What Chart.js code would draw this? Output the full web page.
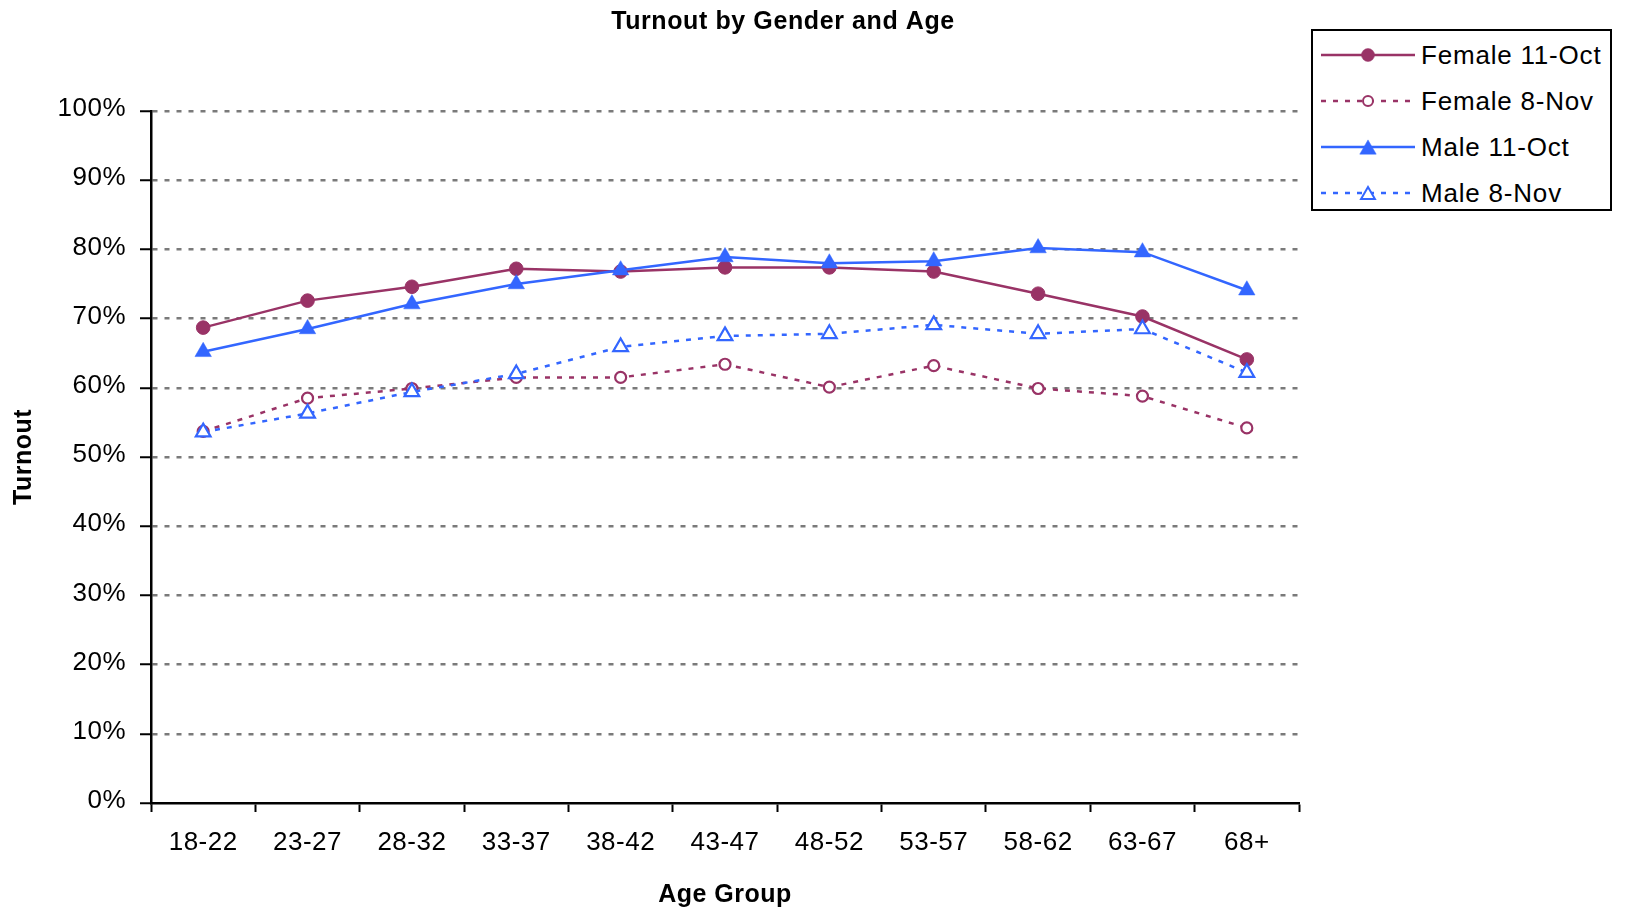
<!DOCTYPE html>
<html>
<head>
<meta charset="utf-8">
<script src="https://cdn.jsdelivr.net/npm/chart.js@4.4.1/dist/chart.umd.min.js"></script>
<style>
  html, body { margin: 0; padding: 0; background: #fff; }
  #wrap { position: relative; width: 1626px; height: 912px; }
  #legend { position: absolute; left: 1311px; top: 29px; width: 297px; height: 178px;
            border: 2px solid #000; background: #fff; }
  .row { position: absolute; left: 0; height: 40px; width: 300px; }
  .row svg { position: absolute; left: 8px; top: 0; }
  .row span { position: absolute; left: 108px; top: 5px; font-family: "Liberation Sans", Arial, sans-serif;
              font-size: 26px; letter-spacing: 0.8px; color: #000; line-height: 30px; white-space: nowrap; }
</style>
</head>
<body>
<div id="wrap">
  <canvas id="c" width="1626" height="912"></canvas>
  <div id="legend"></div>
</div>
<script>
const chartTitle = 'Turnout by Gender and Age';
const xTitle = 'Age Group';
const yTitle = 'Turnout';
const categories = ['18-22','23-27','28-32','33-37','38-42','43-47','48-52','53-57','58-62','63-67','68+'];
const seriesLabels = ['Female 11-Oct','Female 8-Nov','Male 11-Oct','Male 8-Nov'];
const femaleOct = [68.7, 72.6, 74.6, 77.2, 76.8, 77.4, 77.4, 76.8, 73.6, 70.3, 64.1];
const femaleNov = [53.7, 58.5, 59.9, 61.5, 61.5, 63.4, 60.1, 63.2, 59.9, 58.8, 54.2];
const maleOct   = [65.2, 68.5, 72.1, 75.0, 77.0, 78.9, 78.0, 78.3, 80.2, 79.6, 74.1];
const maleNov   = [53.6, 56.3, 59.4, 62.0, 65.9, 67.5, 67.8, 69.1, 67.8, 68.5, 62.2];

const FEMALE = '#993366';
const MALE = '#3366FF';
const FONT = '"Liberation Sans", Arial, sans-serif';

const titlePlugin = {
  id: 'topTitle',
  beforeDraw(chart) {
    chart.ctx.letterSpacing = '0.5px';
  },
  afterDraw(chart) {
    const ctx = chart.ctx;
    ctx.save();
    ctx.letterSpacing = '0.6px';
    ctx.font = 'bold 25px ' + FONT;
    ctx.fillStyle = '#000';
    ctx.textAlign = 'center';
    ctx.textBaseline = 'alphabetic';
    ctx.fillText(chartTitle, 783, 29);
    ctx.restore();
  }
};

const datasets = [
  { label: seriesLabels[0], data: femaleOct, borderColor: FEMALE, backgroundColor: FEMALE,
    borderWidth: 2.5, pointStyle: 'circle', pointRadius: 6.8, pointBorderWidth: 1,
    pointBackgroundColor: FEMALE, pointBorderColor: FEMALE, order: 1 },
  { label: seriesLabels[1], data: femaleNov, borderColor: FEMALE, backgroundColor: '#fff',
    borderWidth: 2.5, borderDash: [5, 7], pointStyle: 'circle', pointRadius: 5.5, pointBorderWidth: 2.2,
    pointBackgroundColor: '#fff', pointBorderColor: FEMALE, order: 1 },
  { label: seriesLabels[2], data: maleOct, borderColor: MALE, backgroundColor: MALE,
    borderWidth: 2.5, pointStyle: 'triangle', pointRadius: 9.5, pointBorderWidth: 0.5,
    pointBackgroundColor: MALE, pointBorderColor: MALE, order: 0 },
  { label: seriesLabels[3], data: maleNov, borderColor: MALE, backgroundColor: '#fff',
    borderWidth: 2.5, borderDash: [5, 7], pointStyle: 'triangle', pointRadius: 8.5, pointBorderWidth: 2.2,
    pointBackgroundColor: '#fff', pointBorderColor: MALE, order: 0 }
];

new Chart(document.getElementById('c'), {
  type: 'line',
  data: { labels: categories, datasets },
  plugins: [titlePlugin],
  options: {
    responsive: false,
    animation: false,
    layout: { padding: { left: 0, top: 111, right: 327, bottom: 0 } },
    plugins: { legend: { display: false }, title: { display: false }, tooltip: { enabled: false } },
    elements: { line: { tension: 0 } },
    scales: {
      x: {
        type: 'category',
        offset: true,
        afterFit(s) { s.height = 109; },
        grid: { display: true, drawOnChartArea: false, drawTicks: true, tickLength: 9,
                tickColor: '#000', tickWidth: 2, offset: true },
        border: { display: true, color: '#000', width: 2.5 },
        ticks: { color: '#000', padding: 15, maxRotation: 0, autoSkip: false,
                 font: { family: FONT, size: 26 } },
        title: { display: true, text: xTitle, color: '#000', padding: { top: 0, bottom: 2 },
                 font: { family: FONT, size: 25, weight: 'bold' } }
      },
      y: {
        min: 0, max: 100,
        afterFit(s) { s.width = 151; },
        grid: {
          color: (c) => (c.tick && c.tick.value === 0) ? 'rgba(0,0,0,0)' : '#7a7a7a',
          lineWidth: 2.5, tickLength: 11, tickColor: '#000', tickWidth: 2,
          tickBorderDash: []
        },
        border: { display: true, color: '#000', width: 2.5, dash: [5, 7] },
        ticks: { stepSize: 10, color: '#000', padding: 14, labelOffset: -2,
                 callback: (v) => v + '%',
                 font: { family: FONT, size: 26 } },
        title: { display: true, text: yTitle, color: '#000', padding: { top: 9, bottom: 0 },
                 font: { family: FONT, size: 25, weight: 'bold' } }
      }
    }
  }
});

// HTML legend built from the dataset definitions
const legendEl = document.getElementById('legend');
const NS = 'http://www.w3.org/2000/svg';
datasets.forEach((ds, i) => {
  const row = document.createElement('div');
  row.className = 'row';
  row.style.top = (4 + i * 46) + 'px';
  const svg = document.createElementNS(NS, 'svg');
  svg.setAttribute('width', '100'); svg.setAttribute('height', '40');
  const line = document.createElementNS(NS, 'line');
  line.setAttribute('x1', '0'); line.setAttribute('x2', '94');
  line.setAttribute('y1', '20'); line.setAttribute('y2', '20');
  line.setAttribute('stroke', ds.borderColor);
  line.setAttribute('stroke-width', '2.5');
  if (ds.borderDash) line.setAttribute('stroke-dasharray', '5 7');
  svg.appendChild(line);
  let m;
  if (ds.pointStyle === 'circle') {
    m = document.createElementNS(NS, 'circle');
    m.setAttribute('cx', '47'); m.setAttribute('cy', '20');
    m.setAttribute('r', ds.borderDash ? '5' : '6.5');
  } else {
    m = document.createElementNS(NS, 'polygon');
    const r = ds.borderDash ? 8 : 9.5;
    const pts = [[47, 20 - r * 0.75], [47 + r * 0.866, 20 + r * 0.75], [47 - r * 0.866, 20 + r * 0.75]];
    m.setAttribute('points', pts.map(p => p.join(',')).join(' '));
  }
  m.setAttribute('fill', ds.pointBackgroundColor);
  m.setAttribute('stroke', ds.pointBorderColor);
  m.setAttribute('stroke-width', ds.borderDash ? '2' : '0.5');
  svg.appendChild(m);
  row.appendChild(svg);
  const span = document.createElement('span');
  span.textContent = ds.label;
  row.appendChild(span);
  legendEl.appendChild(row);
});
</script>
</body>
</html>
